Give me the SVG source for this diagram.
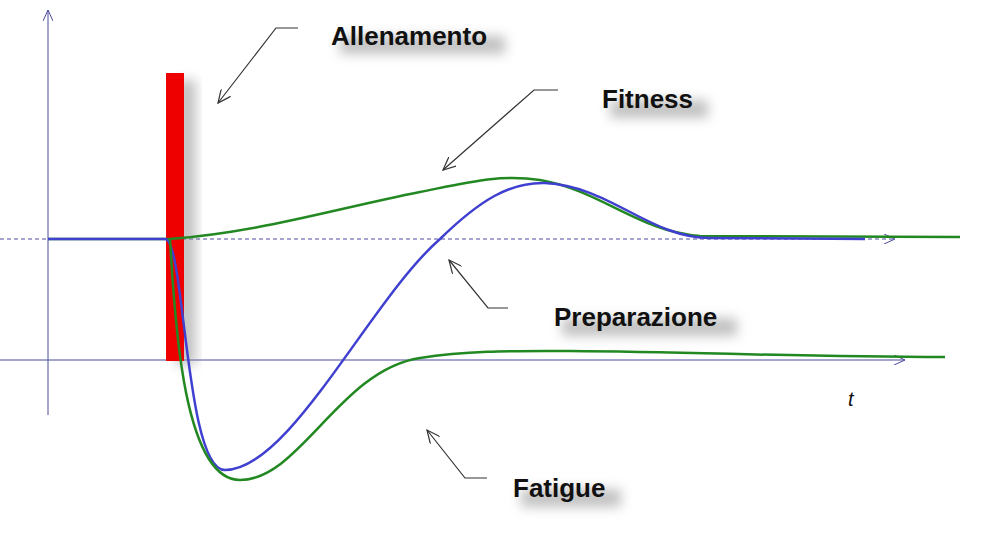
<svg xmlns="http://www.w3.org/2000/svg" width="1004" height="554" viewBox="0 0 1004 554">
<defs>
<style>
.lbl{font-family:"Liberation Sans",Arial,sans-serif;font-weight:bold;font-size:26px;fill:#111}
.ax{stroke:#4a4aa0;stroke-width:1;fill:none}
.ptr{stroke:#333;stroke-width:1.2;fill:none;marker-end:url(#pa)}
</style>
<marker id="ax" markerWidth="12" markerHeight="10" refX="11" refY="5" orient="auto" markerUnits="userSpaceOnUse"><path d="M0,0 L11,5 L0,10" fill="none" stroke="#4a4aa0"/></marker>
<marker id="pa" markerWidth="14" markerHeight="12" refX="13" refY="6" orient="auto" markerUnits="userSpaceOnUse"><path d="M0,0 L13,6 L0,12" fill="none" stroke="#333" stroke-width="1.2"/></marker>
<filter id="sh" x="-30%" y="-50%" width="160%" height="200%"><feGaussianBlur stdDeviation="6"/></filter>
</defs>
<rect width="1004" height="554" fill="#fff"/>
<g id="axes">
<line class="ax" x1="48" y1="415" x2="48" y2="10" marker-end="url(#ax)"/>
<line class="ax" x1="0" y1="239" x2="895" y2="239" stroke-dasharray="4,3" marker-end="url(#ax)"/>
<line class="ax" x1="0" y1="360" x2="905" y2="360" marker-end="url(#ax)"/>
<text x="848" y="406" font-family="Liberation Sans,Arial,sans-serif" font-style="italic" font-size="20" fill="#111">t</text>
</g>
<g id="training">
<rect x="176" y="80" width="20" height="285" fill="#888" opacity="0.5" filter="url(#sh)"/>
<rect x="166" y="73" width="18" height="288" fill="#ee0000"/>
</g>
<g id="curves" fill="none" stroke-width="2.5">
<path d="M48,239 L170,239 C260,232 330,210 420,192 C470,182 500,174 540,180 C600,190 640,232 700,236 L960,237" stroke="#228822"/>
<path d="M48,239 L165,239 C185,239 185,470 225,470 C290,470 370,300 440,239 C480,200 510,182 545,183 C610,186 650,238 710,238 L865,239" stroke="#4040d0"/>
<path d="M170,239 C175,330 185,480 240,480 C300,480 340,370 420,358 C470,350 520,351 570,351 C700,352 800,357 945,357" stroke="#228822"/>
</g>
<g id="labels">
<g fill="#999" opacity="0.6" filter="url(#sh)"><rect x="340" y="36" width="165" height="18"/><rect x="610" y="100" width="98" height="18"/><rect x="562" y="318" width="175" height="18"/><rect x="521" y="489" width="100" height="18"/></g>
<text class="lbl" x="331" y="45">Allenamento</text>
<text class="lbl" x="602" y="108">Fitness</text>
<text class="lbl" x="554" y="326">Preparazione</text>
<text class="lbl" x="513" y="497">Fatigue</text>
</g>
<g id="pointers">
<path class="ptr" d="M298,28 L276,28 L218,103"/>
<path class="ptr" d="M558,90 L534,90 L443,170"/>
<path class="ptr" d="M508,308 L488,308 L449,260"/>
<path class="ptr" d="M487,478 L465,478 L427,430"/>
</g>
</svg>
